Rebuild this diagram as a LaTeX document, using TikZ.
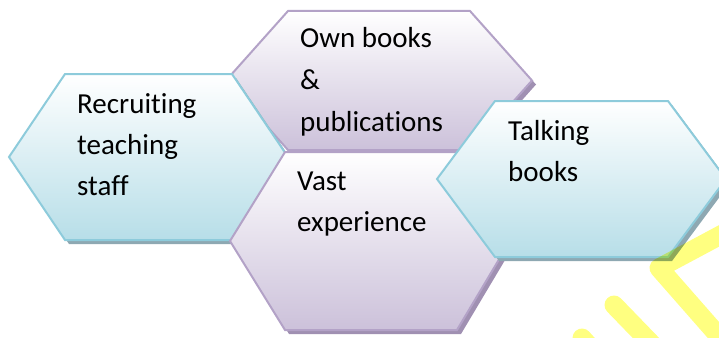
\documentclass[tikz,border=0pt]{standalone}
\usepackage{fontspec}
\setmainfont{Carlito}[Ligatures={NoCommon}]
\definecolor{bluefill}{HTML}{B7DEE8}
\definecolor{blueline}{HTML}{8DCBDB}
\definecolor{blueshadow}{HTML}{8EA8B2}
\definecolor{purpfill}{HTML}{CCC1DA}
\definecolor{purpline}{HTML}{B3A2C7}
\definecolor{purpshadow}{HTML}{A090B2}
\definecolor{wmyellow}{HTML}{FFFF80}
\begin{document}
\begin{tikzpicture}[x=1pt,y=-1pt,
  bluehex/.style={draw=blueline, line width=2pt, top color=white, bottom color=bluefill},
  purphex/.style={draw=purpline, line width=2pt, top color=white, bottom color=purpfill},
  blueshad/.style={fill=blueshadow, shift={(4,4)}},
  purpshad/.style={fill=purpshadow, shift={(4,4)}},
  txt/.style={anchor=base west, inner sep=0pt, font=\fontsize{29}{41}\selectfont},
  wm/.style={draw=wmyellow, line width=19pt, line cap=round, line join=round}]
\useasboundingbox (0,0) rectangle (719,337);
% top purple hexagon
\path[purpshad] (226,80.5) -- (288,11) -- (470,11) -- (532,80.5) -- (470,150) -- (288,150) -- cycle;
\path[purphex] (226,80.5) -- (288,11) -- (470,11) -- (532,80.5) -- (470,150) -- (288,150) -- cycle;
% left blue hexagon
\path[blueshad] (9,157) -- (65,74) -- (232,74) -- (288,157) -- (232,240) -- (65,240) -- cycle;
\path[bluehex] (9,157) -- (65,74) -- (232,74) -- (288,157) -- (232,240) -- (65,240) -- cycle;
% bottom purple hexagon
\path[purpshad] (230,241) -- (285,152) -- (457,152) -- (510,241) -- (457,330) -- (285,330) -- cycle;
\path[purphex] (230,241) -- (285,152) -- (457,152) -- (510,241) -- (457,330) -- (285,330) -- cycle;
% right blue hexagon
\path[blueshad] (437,179) -- (495,101) -- (668,101) -- (726,179) -- (668,257) -- (495,257) -- cycle;
\path[bluehex] (437,179) -- (495,101) -- (668,101) -- (726,179) -- (668,257) -- (495,257) -- cycle;
% texts
\node[txt] (r1) at (77,113) {Recruiting};
\node[txt] (r2) at (77,154) {teaching};
\node[txt] (r3) at (77,195) {staff};
\node[txt] (o1) at (300,48) {Own books};
\node[txt] (o2) at (300,89.5) {\&};
\node[txt] (o3) at (300,131) {publications};
\node[txt] (v1) at (297,190) {Vast};
\node[txt] (v2) at (297,231) {experience};
\node[txt] (k1) at (508,140) {Talking};
\node[txt] (k2) at (508,181) {books};
% watermark fragment
\begin{scope}[blend mode=multiply]
\draw[wm] (745,366) -- (659,268) -- (745,222);
\draw[wm] (614,305) -- (675,368);
\draw[wm] (582,338) -- (620,380);
\end{scope}
\end{tikzpicture}
\end{document}
